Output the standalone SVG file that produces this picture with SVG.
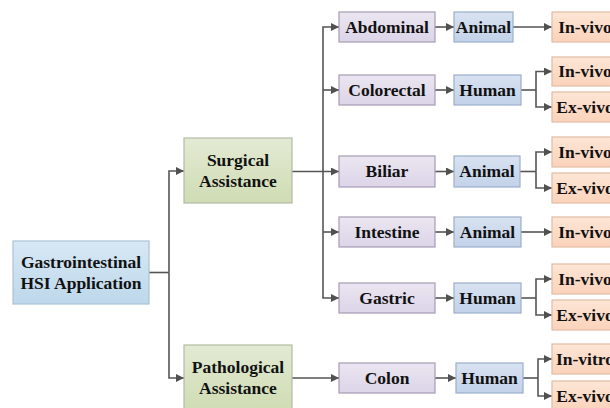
<svg xmlns="http://www.w3.org/2000/svg" width="610" height="408" viewBox="0 0 610 408">
<defs>
<linearGradient id="gBlue" x1="0" y1="0" x2="0" y2="1"><stop offset="0" stop-color="#d8e8f5"/><stop offset="1" stop-color="#bdd8ea"/></linearGradient>
<linearGradient id="gGreen" x1="0" y1="0" x2="0" y2="1"><stop offset="0" stop-color="#e3eAd4"/><stop offset="1" stop-color="#cfdcb3"/></linearGradient>
<linearGradient id="gPurple" x1="0" y1="0" x2="0" y2="1"><stop offset="0" stop-color="#ebe6f1"/><stop offset="1" stop-color="#dcd4e8"/></linearGradient>
<linearGradient id="gSub" x1="0" y1="0" x2="0" y2="1"><stop offset="0" stop-color="#d8e2f1"/><stop offset="1" stop-color="#c3d2e9"/></linearGradient>
<linearGradient id="gOrange" x1="0" y1="0" x2="0" y2="1"><stop offset="0" stop-color="#fde6d6"/><stop offset="1" stop-color="#fbd2ba"/></linearGradient>
<marker id="arr" viewBox="0 0 10 10" refX="10" refY="5" markerWidth="9" markerHeight="8" markerUnits="userSpaceOnUse" orient="auto">
<path d="M0,0 L10,5 L0,10 z" fill="#505050"/>
</marker>
<style>
.t{font-family:"Liberation Serif","Times New Roman",serif;font-weight:bold;font-size:17.5px;fill:#111;text-anchor:middle}
.root{fill:url(#gBlue);stroke:#a9c3d6;stroke-width:1.2}
.l1{fill:url(#gGreen);stroke:#b3bba3;stroke-width:1.2}
.l2{fill:url(#gPurple);stroke:#a59bb4;stroke-width:1.2}
.l3{fill:url(#gSub);stroke:#9aafcb;stroke-width:1.2}
.l4{fill:url(#gOrange);stroke:#e2bca3;stroke-width:1.2}
.c{fill:none;stroke:#555;stroke-width:1.6}
.a{fill:none;stroke:#555;stroke-width:1.6;marker-end:url(#arr)}
</style>
</defs>

<g id="connectors">
<path class="c" d="M149,272.5 H169"/>
<path class="a" d="M169,272.5 V171 H184"/>
<path class="a" d="M169,272.5 V378 H184"/>
<path class="a" d="M292,171.5 H339"/>
<path class="a" d="M323,171.5 V27 H339"/>
<path class="a" d="M323,90 H339"/>
<path class="a" d="M323,171.5 V298 H339"/>
<path class="a" d="M323,232 H339"/>
<path class="a" d="M292,378 H339"/>
<path class="a" d="M435,27 H454"/>
<path class="a" d="M435,90 H454"/>
<path class="a" d="M435,171.5 H454"/>
<path class="a" d="M435,232 H454"/>
<path class="a" d="M435,298 H454"/>
<path class="a" d="M435,378 H456"/>
<path class="a" d="M513,27 H552"/>
<path class="a" d="M521,232 H552"/>
<path class="c" d="M521,90 H536"/>
<path class="a" d="M536,90 V71.5 H552"/>
<path class="a" d="M536,90 V107 H552"/>
<path class="c" d="M520,171.5 H536"/>
<path class="a" d="M536,171.5 V152 H552"/>
<path class="a" d="M536,171.5 V188 H552"/>
<path class="c" d="M521,298 H536"/>
<path class="a" d="M536,298 V279 H552"/>
<path class="a" d="M536,298 V315 H552"/>
<path class="c" d="M523,378 H538"/>
<path class="a" d="M538,378 V359 H552"/>
<path class="a" d="M538,378 V396 H552"/>
</g>

<g id="gastro"><rect class="root" x="13" y="241" width="136" height="63"/><text class="t" x="81" y="267.5">Gastrointestinal</text><text class="t" x="81" y="288.5">HSI Application</text></g>
<g id="surgical"><rect class="l1" x="184" y="138" width="108" height="65"/><text class="t" x="238" y="165.5">Surgical</text><text class="t" x="238" y="187">Assistance</text></g>
<g id="pathological"><rect class="l1" x="184" y="345" width="108" height="65"/><text class="t" x="238" y="372.5">Pathological</text><text class="t" x="238" y="394">Assistance</text></g>

<g id="abdominal"><rect class="l2" x="339" y="12" width="96" height="30"/><text class="t" x="387" y="32.5">Abdominal</text></g>
<g id="colorectal"><rect class="l2" x="339" y="75" width="96" height="30"/><text class="t" x="387" y="95.5">Colorectal</text></g>
<g id="biliar"><rect class="l2" x="339" y="156" width="96" height="31"/><text class="t" x="387" y="177">Biliar</text></g>
<g id="intestine"><rect class="l2" x="339" y="217" width="96" height="30"/><text class="t" x="387" y="237.5">Intestine</text></g>
<g id="gastric"><rect class="l2" x="339" y="283" width="96" height="30"/><text class="t" x="387" y="303.5">Gastric</text></g>
<g id="colon"><rect class="l2" x="339" y="363" width="96" height="30"/><text class="t" x="387" y="383.5">Colon</text></g>

<g id="animal1"><rect class="l3" x="454" y="12" width="59" height="30"/><text class="t" x="483.5" y="32.5">Animal</text></g>
<g id="human1"><rect class="l3" x="454" y="75" width="67" height="30"/><text class="t" x="487.5" y="95.5">Human</text></g>
<g id="animal2"><rect class="l3" x="454" y="156" width="66" height="31"/><text class="t" x="487" y="177">Animal</text></g>
<g id="animal3"><rect class="l3" x="454" y="217" width="67" height="30"/><text class="t" x="487.5" y="237.5">Animal</text></g>
<g id="human2"><rect class="l3" x="454" y="283" width="67" height="30"/><text class="t" x="487.5" y="303.5">Human</text></g>
<g id="human3"><rect class="l3" x="456" y="363" width="67" height="30"/><text class="t" x="489.5" y="383.5">Human</text></g>

<g id="invivo1"><rect class="l4" x="552" y="12" width="66" height="30"/><text class="t" x="585" y="32.5">In-vivo</text></g>
<g id="invivo2"><rect class="l4" x="552" y="57" width="66" height="29"/><text class="t" x="585" y="77">In-vivo</text></g>
<g id="exvivo2"><rect class="l4" x="552" y="92" width="66" height="30"/><text class="t" x="585" y="112.5">Ex-vivo</text></g>
<g id="invivo3"><rect class="l4" x="552" y="137" width="66" height="30"/><text class="t" x="585" y="157.5">In-vivo</text></g>
<g id="exvivo3"><rect class="l4" x="552" y="173" width="66" height="30"/><text class="t" x="585" y="193.5">Ex-vivo</text></g>
<g id="invivo4"><rect class="l4" x="552" y="217" width="66" height="30"/><text class="t" x="585" y="237.5">In-vivo</text></g>
<g id="invivo5"><rect class="l4" x="552" y="264" width="66" height="30"/><text class="t" x="585" y="284.5">In-vivo</text></g>
<g id="exvivo5"><rect class="l4" x="552" y="300" width="66" height="30"/><text class="t" x="585" y="320.5">Ex-vivo</text></g>
<g id="invitro6"><rect class="l4" x="552" y="344" width="66" height="30"/><text class="t" x="585" y="364.5">In-vitro</text></g>
<g id="exvivo6"><rect class="l4" x="552" y="381" width="66" height="30"/><text class="t" x="585" y="401.5">Ex-vivo</text></g>
</svg>
